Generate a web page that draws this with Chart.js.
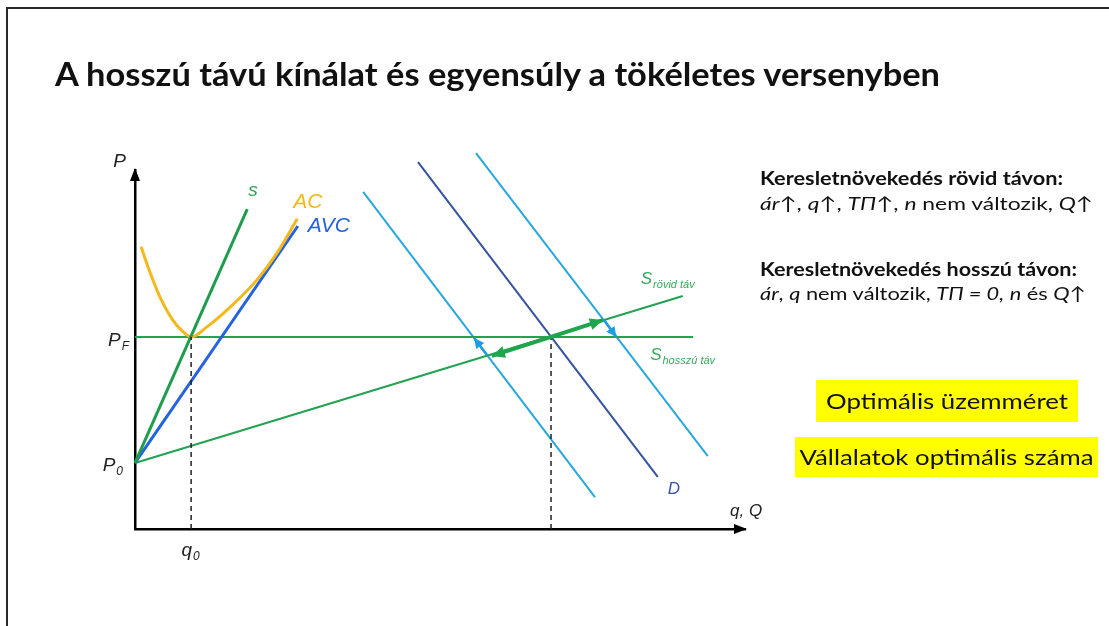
<!DOCTYPE html>
<html lang="hu">
<head>
<meta charset="utf-8">
<script src="https://cdn.jsdelivr.net/npm/chart.js@4.4.0/dist/chart.umd.min.js"></script>
<style>
  html, body { margin: 0; padding: 0; background: #fff; }
  #page { position: relative; width: 1109px; height: 626px; overflow: hidden; font-family: Lato, "Open Sans", sans-serif; color: #111; }
  #frame { position: absolute; left: 6px; top: 7px; right: -10px; bottom: -10px; border-top: 2px solid #2a2a2a; border-left: 2px solid #2a2a2a; }
  #c { position: absolute; left: 0; top: 0; }
  .txt { position: absolute; white-space: nowrap; transform-origin: 0 50%; }
  #title { left: 55px; top: 54px; font-size: 33px; font-weight: 700; line-height: 38px; }
  .note { left: 760px; font-size: 18px; line-height: 22px; }
  .box { position: absolute; background: #ffff00; font-size: 22px; text-align: center; white-space: nowrap; }
  .box span { display: inline-block; transform-origin: 50% 50%; }
</style>
</head>
<body>
<div id="page">
  <canvas id="c" width="1109" height="626"></canvas>
  <div id="frame"></div>
  <div class="txt" id="title" data-w="885">A hosszú távú kínálat és egyensúly a tökéletes versenyben</div>
  <div class="txt note" style="top:167px" data-w="303"><b>Keresletnövekedés rövid távon:</b></div>
  <div class="txt note" style="top:192px" data-w="333"><i>ár</i>↑, <i>q</i>↑, <i>TΠ</i>↑, <i>n</i> nem változik, <i>Q</i>↑</div>
  <div class="txt note" style="top:258px" data-w="317"><b>Keresletnövekedés hosszú távon:</b></div>
  <div class="txt note" style="top:282px" data-w="326"><i>ár</i>, <i>q</i> nem változik, <i>TΠ = 0,</i> <i>n</i> és <i>Q</i>↑</div>
  <div class="box" style="left:816px; top:380px; width:262px; height:42px; line-height:42px;"><span data-w="242">Optimális üzemméret</span></div>
  <div class="box" style="left:795px; top:437px; width:303px; height:40px; line-height:40px;"><span data-w="294">Vállalatok optimális száma</span></div>
</div>
<script>
// értékek (q, P) a diagram saját egységeiben
const P_F = 53.5, P_0 = 18.4, q_0 = 9.2, Q_E = 68.2;

const acQ = [1.0, 2.5, 4.1, 6.2, 7.9, 9.2, 11.8, 15.6, 20.0, 23.3, 26.6];
const acP = [78.6, 71.3, 64.6, 58.2, 54.9, 53.5, 56.3, 61.8, 69.4, 76.9, 86.4];
const sQ = [0, 18.4], sP = [18.4, 89.1];
const avcQ = [0, 26.7], avcP = [18.4, 84.4];
const longQ = [0, 91.5], longP = [P_F, P_F];          // S hosszú táv
const shortQ = [0, 89.8], shortP = [P_0, 64.9];       // S rövid táv
const dQ = [46.4, 85.7], dP = [102.2, 14.5];
const d1Q = [37.4, 75.4], d1P = [93.9, 8.9];
const d2Q = [55.9, 93.9], d2P = [104.7, 20.3];
const moveQ = [58.5, Q_E, 76.7], moveP = [48.2, P_F, 58.2];
const upQ = [57.7, 55.6], upP = [48.5, 53.2];
const downQ = [76.9, 78.9], downP = [58.2, 53.5];
const tickLabels = { p: "P", pF: ["P", "F"], p0: ["P", "0"], q0: ["q", "0"], x: "q, Q" };

const pts = (xs, ys) => xs.map((x, i) => ({ x, y: ys[i] }));

function line(xs, ys, color, width, extra) {
  return Object.assign({
    data: pts(xs, ys), showLine: true, borderColor: color, backgroundColor: color,
    borderWidth: width, pointRadius: 0, fill: false, clip: false
  }, extra || {});
}

function head(ctx, from, to, len, half, color) {
  const a = Math.atan2(to.y - from.y, to.x - from.x);
  ctx.save();
  ctx.fillStyle = color;
  ctx.beginPath();
  ctx.moveTo(to.x, to.y);
  ctx.lineTo(to.x - len * Math.cos(a) + half * Math.sin(a), to.y - len * Math.sin(a) - half * Math.cos(a));
  ctx.lineTo(to.x - len * Math.cos(a) - half * Math.sin(a), to.y - len * Math.sin(a) + half * Math.cos(a));
  ctx.closePath();
  ctx.fill();
  ctx.restore();
}

function subText(ctx, main, sub, x, y, size, subSize, color, align) {
  ctx.save();
  ctx.fillStyle = color;
  ctx.textBaseline = "alphabetic";
  ctx.textAlign = "left";
  ctx.font = `italic ${size}px "Liberation Sans", Arial, sans-serif`;
  const w1 = ctx.measureText(main).width;
  ctx.font = `italic ${subSize}px "Liberation Sans", Arial, sans-serif`;
  const w2 = ctx.measureText(sub).width;
  let x0 = x;
  if (align === "right") x0 = x - w1 - w2;
  if (align === "center") x0 = x - (w1 + w2) / 2;
  ctx.font = `italic ${size}px "Liberation Sans", Arial, sans-serif`;
  ctx.fillText(main, x0, y);
  ctx.font = `italic ${subSize}px "Liberation Sans", Arial, sans-serif`;
  ctx.fillText(sub, x0 + w1 + 1, y + 4);
  ctx.restore();
}

const diagram = {
  id: "diagram",
  afterDatasetsDraw(chart) {
    const ctx = chart.ctx;
    chart.data.datasets.forEach((ds, i) => {
      if (!ds.arrow) return;
      const p = chart.getDatasetMeta(i).data;
      const n = p.length;
      if (ds.arrow === "end" || ds.arrow === "both") head(ctx, p[n - 2], p[n - 1], ds.headLen, ds.headHalf, ds.borderColor);
      if (ds.arrow === "start" || ds.arrow === "both") head(ctx, p[1], p[0], ds.headLen, ds.headHalf, ds.borderColor);
    });
  },
  afterDraw(chart) {
    const ctx = chart.ctx;
    const xs = chart.scales.x, ys = chart.scales.y;
    const px = v => xs.getPixelForValue(v), py = v => ys.getPixelForValue(v);
    const ox = px(0), oy = py(0);

    // tengely nyilak
    head(ctx, { x: ox, y: oy }, { x: ox, y: py(100) - 2 }, 13, 5, "#000");
    head(ctx, { x: ox, y: oy }, { x: px(100) + 2, y: oy }, 13, 5, "#000");

    ctx.save();
    ctx.textBaseline = "alphabetic";
    ctx.fillStyle = "#222";
    ctx.font = 'italic 19px "Liberation Sans", Arial, sans-serif';
    ctx.textAlign = "right";
    ctx.fillText(tickLabels.p, ox - 9, py(100) - 3);
    ctx.textAlign = "left";
    ctx.font = 'italic 17px "Liberation Sans", Arial, sans-serif';
    ctx.fillText(tickLabels.x, px(100) - 15, oy - 13);
    ctx.restore();

    subText(ctx, tickLabels.pF[0], tickLabels.pF[1], ox - 7, py(P_F) + 9, 19, 12, "#222", "right");
    subText(ctx, tickLabels.p0[0], tickLabels.p0[1], ox - 13, py(P_0) + 8, 19, 12, "#222", "right");
    subText(ctx, tickLabels.q0[0], tickLabels.q0[1], px(q_0) - 1, oy + 27, 19, 12, "#222", "center");

    const lbl = (t, x, y, size, color) => {
      ctx.save();
      ctx.fillStyle = color;
      ctx.textAlign = "left";
      ctx.textBaseline = "alphabetic";
      ctx.font = `italic ${size}px "Liberation Sans", Arial, sans-serif`;
      ctx.fillText(t, x, y);
      ctx.restore();
    };
    lbl("s", px(sQ[1]) + 1, py(sP[1]) - 13, 19, "#2aa356");
    lbl("AC", px(acQ[acQ.length - 1]) - 4, py(acP[acP.length - 1]) - 11, 21, "#f3b81c");
    lbl("AVC", px(avcQ[1]) + 10, py(avcP[1]) + 6, 21, "#2463dc");
    lbl("D", px(dQ[1]) + 10, py(dP[1]) + 17, 17, "#3a56a8");
    subText(ctx, "S", "rövid táv", px(shortQ[1]) - 42, py(shortP[1]) - 12, 17, 11, "#35a85a", "left");
    subText(ctx, "S", "hosszú táv", px(longQ[1]) - 43, py(longP[1]) + 23, 17, 11, "#35a85a", "left");
  }
};

new Chart(document.getElementById("c"), {
  type: "scatter",
  data: {
    datasets: [
      line(moveQ, moveP, "#1ea64c", 4, { arrow: "both", headLen: 13, headHalf: 6 }),
      line(upQ, upP, "#1d9de5", 2.5, { arrow: "end", headLen: 10, headHalf: 5 }),
      line(downQ, downP, "#1d9de5", 2.5, { arrow: "end", headLen: 10, headHalf: 5 }),
      line([q_0, q_0], [0, P_F], "#222", 1.5, { borderDash: [5, 4] }),
      line([Q_E, Q_E], [0, P_F], "#222", 1.5, { borderDash: [5, 4] }),
      line(sQ, sP, "#1f9c4e", 3),
      line(acQ, acP, "#f3b81c", 3, { cubicInterpolationMode: "monotone" }),
      line(avcQ, avcP, "#2463dc", 3),
      line(longQ, longP, "#22a352", 2),
      line(shortQ, shortP, "#22a352", 2),
      line(dQ, dP, "#34549f", 2),
      line(d1Q, d1P, "#2aa7dc", 2),
      line(d2Q, d2P, "#2aa7dc", 2)
    ]
  },
  options: {
    responsive: false,
    devicePixelRatio: 1,
    animation: false,
    layout: { padding: { left: 135, right: 364, top: 170, bottom: 97 } },
    plugins: { legend: { display: false }, tooltip: { enabled: false } },
    scales: {
      x: {
        type: "linear", min: 0, max: 100,
        grid: { display: false }, ticks: { display: false },
        border: { display: true, color: "#000", width: 2.5 },
        afterFit: s => { s.height = 0; }
      },
      y: {
        type: "linear", min: 0, max: 100,
        grid: { display: false }, ticks: { display: false },
        border: { display: true, color: "#000", width: 2.5 },
        afterFit: s => { s.width = 0; }
      }
    }
  },
  plugins: [diagram]
});

function fitAll() {
  document.querySelectorAll("[data-w]").forEach(el => {
    el.style.transform = "";
    const w = el.getBoundingClientRect().width;
    el.style.transform = `scaleX(${(+el.dataset.w / w).toFixed(4)})`;
  });
}
if (document.fonts && document.fonts.ready) document.fonts.ready.then(fitAll);
fitAll();
</script>
</body>
</html>
